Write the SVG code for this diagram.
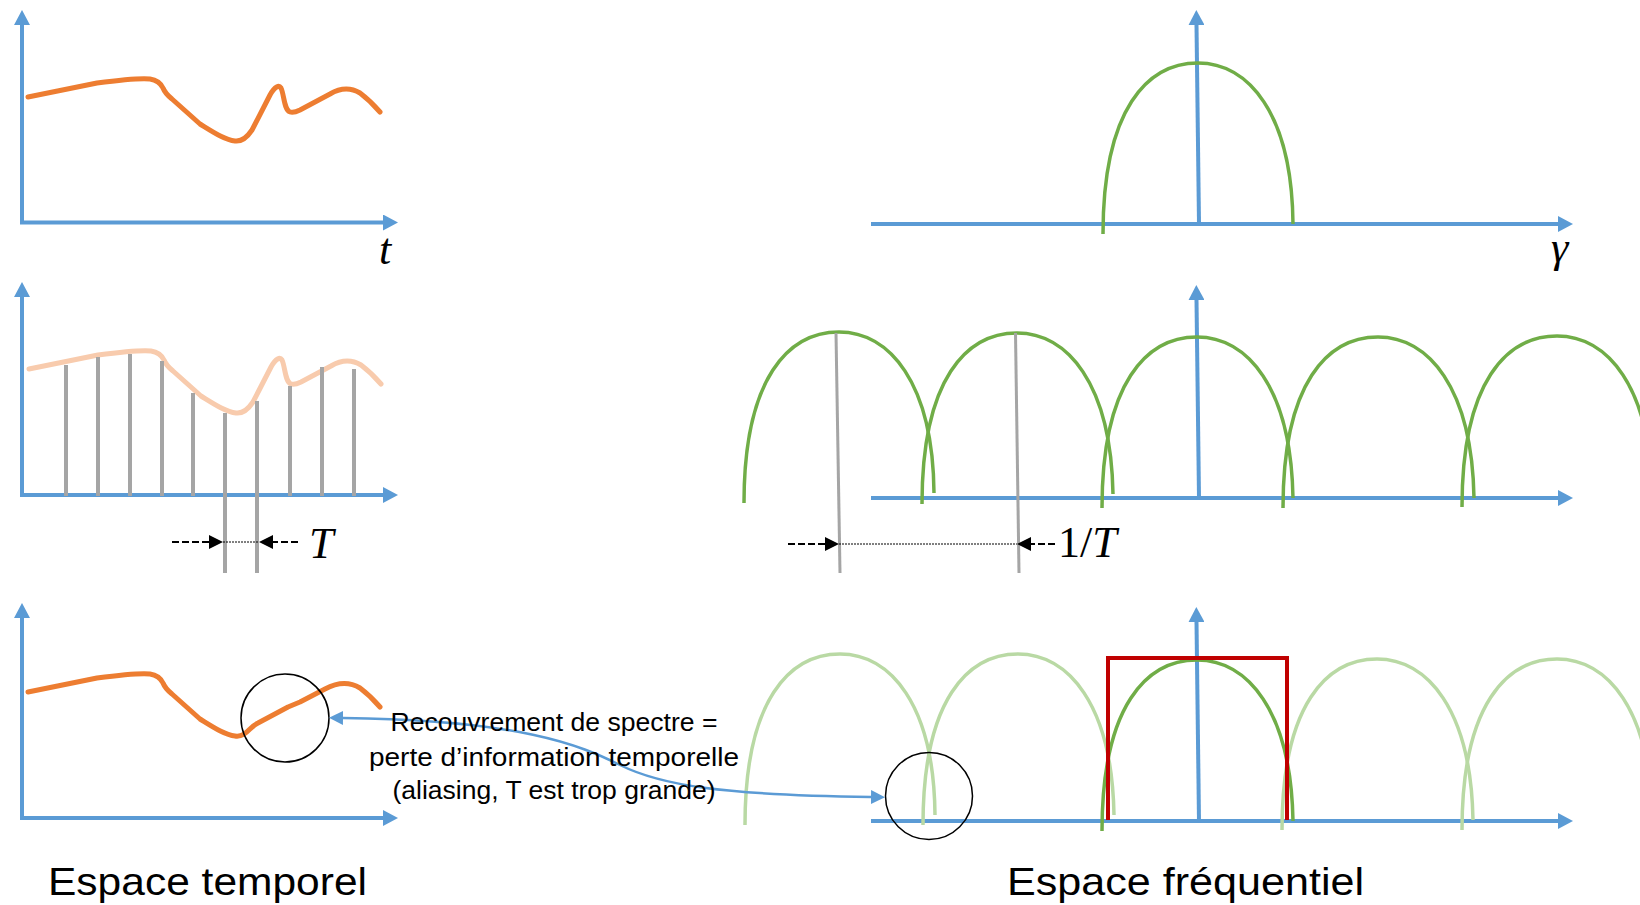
<svg xmlns="http://www.w3.org/2000/svg" width="1640" height="905" viewBox="0 0 1640 905">
<style>
.axis{stroke:#5B9BD5;stroke-width:4;fill:none}
.sig{stroke:#ED7D31;stroke-width:5;fill:none;stroke-linecap:round;stroke-linejoin:round}
.sigl{stroke:#F8CBAD;stroke-width:5;fill:none;stroke-linecap:round;stroke-linejoin:round}
.stem{stroke:#A5A5A5;stroke-width:4}
.gl{stroke:#A5A5A5;stroke-width:3}
.spec{stroke:#70AD47;stroke-width:3.5;fill:none}
.specl{stroke:#B9D9A4;stroke-width:3.5;fill:none}
.box{stroke:#C00000;stroke-width:4;fill:none}
.dash{stroke:#000;stroke-width:2.2;stroke-dasharray:7 3}
.dot{stroke:#000;stroke-width:1;stroke-dasharray:2 1}
.circ{fill:none;stroke:#000;stroke-width:1.5}
.conn{fill:none;stroke:#5B9BD5;stroke-width:2.5}
.lbl{font-family:'Liberation Sans',Arial,sans-serif;fill:#000}
.math{font-family:'Liberation Serif','DejaVu Serif',serif;font-style:italic;fill:#000}
</style>
<defs>
<marker id="ah" markerUnits="userSpaceOnUse" markerWidth="16" markerHeight="16" refX="0" refY="8" orient="auto" viewBox="0 0 16 16"><path d="M0,0 L15,8 L0,16 z" fill="#5B9BD5"/></marker>
<marker id="ch" markerUnits="userSpaceOnUse" markerWidth="14" markerHeight="14" refX="0" refY="7" orient="auto-start-reverse" viewBox="0 0 14 14"><path d="M0,0 L14,7 L0,14 z" fill="#5B9BD5"/></marker>
<marker id="bh" markerUnits="userSpaceOnUse" markerWidth="14" markerHeight="14" refX="0" refY="7" orient="auto" viewBox="0 0 14 14"><path d="M0,0 L14,7 L0,14 z" fill="#000"/></marker>
<path id="sigpath" d="M28,97 L97,83 C120,80 140,78 150,79 C157,80 161,84 163,88 C165,93 167,95 172,99 L200,124 C213,132 225,140 235,141 C243,142 248,136 252,130 L270,95 C275,86 279,85 281,88 C284,94 284,110 290,112 C293,113 296,112 300,110 L330,94 C340,88 350,87 360,93 C368,99 374,105 380,112"/>
</defs>
<rect width="1640" height="905" fill="#fff"/>

<g id="time-signal">
<line class="axis" x1="22" y1="224" x2="22" y2="25" marker-end="url(#ah)"/>
<line class="axis" x1="20" y1="222.5" x2="383" y2="222.5" marker-end="url(#ah)"/>
<use href="#sigpath" class="sig"/>
<text class="math" x="379" y="264" font-size="44">t</text>
</g>

<g id="time-sampled">
<line class="axis" x1="22" y1="497" x2="22" y2="297" marker-end="url(#ah)"/>
<line class="axis" x1="20" y1="495" x2="383" y2="495" marker-end="url(#ah)"/>
<use href="#sigpath" class="sigl" transform="translate(1,272)"/>
<line class="stem" x1="66" y1="365" x2="66" y2="496"/>
<line class="stem" x1="98" y1="357" x2="98" y2="496"/>
<line class="stem" x1="130" y1="354" x2="130" y2="496"/>
<line class="stem" x1="162" y1="361" x2="162" y2="496"/>
<line class="stem" x1="193" y1="393" x2="193" y2="496"/>
<line class="stem" x1="225" y1="413" x2="225" y2="573"/>
<line class="stem" x1="257" y1="401" x2="257" y2="573"/>
<line class="stem" x1="290" y1="386" x2="290" y2="496"/>
<line class="stem" x1="322" y1="367" x2="322" y2="496"/>
<line class="stem" x1="354" y1="369" x2="354" y2="496"/>
<line class="dash" x1="172" y1="542" x2="209" y2="542" marker-end="url(#bh)"/>
<line class="dot" x1="223" y1="542" x2="259" y2="542"/>
<line class="dash" x1="298" y1="542" x2="273" y2="542" marker-end="url(#bh)"/>
<text class="math" x="309" y="558" font-size="44">T</text>
</g>

<g id="time-aliased">
<line class="axis" x1="22" y1="820" x2="22" y2="618" marker-end="url(#ah)"/>
<line class="axis" x1="20" y1="818" x2="383" y2="818" marker-end="url(#ah)"/>
<path class="sig" d="M28,692 L97,678 C120,675 140,673 150,674 C157,675 161,679 163,683 C165,688 167,690 172,694 L200,719 C213,727 225,735 235,736 C242,737 246,733 250,729 C252,727 254,725 258,723 L288,707 L300,702 L325,689 C338,682 350,682 360,688 C368,694 374,700 380,707"/>
<circle class="circ" cx="285" cy="718" r="44"/>
</g>

<g id="freq-spectrum">
<line class="axis" x1="871" y1="224" x2="1558" y2="224" marker-end="url(#ah)"/>
<line class="axis" x1="1199" y1="224" x2="1196.5" y2="25" marker-end="url(#ah)"/>
<path class="spec" d="M1103,234 C1103,108 1148,63 1198,63 C1248,63 1292,113 1293,224"/>
<text class="math" x="1551" y="262" font-size="44">γ</text>
</g>

<g id="freq-periodized">
<line class="axis" x1="871" y1="498" x2="1558" y2="498" marker-end="url(#ah)"/>
<line class="axis" x1="1199" y1="498" x2="1196.5" y2="300" marker-end="url(#ah)"/>
<path class="spec" d="M744,503 C744,377 789,332 839,332 C889,332 933,382 934,493"/>
<path class="spec" d="M922,504 C922,378 967,333 1017,333 C1067,333 1111,383 1113,494"/>
<path class="spec" d="M1102,508 C1102,382 1147,337 1197,337 C1247,337 1291,387 1293,498"/>
<path class="spec" d="M1283,508 C1283,382 1328,337 1378,337 C1428,337 1472,387 1474,498"/>
<path class="spec" d="M1462,507 C1462,381 1507,336 1557,336 C1607,336 1651,386 1652,497"/>
<line class="gl" x1="836" y1="333" x2="840" y2="573"/>
<line class="gl" x1="1015.5" y1="333" x2="1019" y2="573"/>
<line class="dash" x1="788" y1="544" x2="825" y2="544" marker-end="url(#bh)"/>
<line class="dot" x1="839" y1="544" x2="1017" y2="544"/>
<line class="dash" x1="1055" y1="544" x2="1031" y2="544" marker-end="url(#bh)"/>
<text class="math" x="1058" y="557" font-size="44"><tspan font-style="normal">1/</tspan>T</text>
</g>

<g id="freq-filtered">
<line class="axis" x1="871" y1="821" x2="1558" y2="821" marker-end="url(#ah)"/>
<line class="axis" x1="1199" y1="821" x2="1196.5" y2="622" marker-end="url(#ah)"/>
<path class="specl" d="M745,825 C745,699 790,654 840,654 C890,654 934,704 935,815"/>
<path class="specl" d="M923,825 C923,699 968,654 1018,654 C1068,654 1112,704 1114,815"/>
<path class="specl" d="M1282,830 C1282,704 1327,659 1377,659 C1427,659 1471,709 1473,820"/>
<path class="specl" d="M1462,830 C1462,704 1507,659 1557,659 C1607,659 1651,709 1652,820"/>
<path class="spec" d="M1102,831 C1102,705 1147,660 1197,660 C1247,660 1291,710 1293,821"/>
<polyline class="box" points="1108,820 1108,658 1287,658 1287,820"/>
<circle class="circ" cx="929" cy="796" r="43.5"/>
</g>

<g id="connectors">
<path class="conn" d="M343,718 C520,720 580,745 620,765 S720,795 871,797" marker-start="url(#ch)" marker-end="url(#ch)"/>
</g>

<g id="note">
<text class="lbl" font-size="25" text-anchor="middle" x="554" y="731" textLength="327" lengthAdjust="spacingAndGlyphs">Recouvrement de spectre =</text>
<text class="lbl" font-size="25" text-anchor="middle" x="554" y="766" textLength="370" lengthAdjust="spacingAndGlyphs">perte d’information temporelle</text>
<text class="lbl" font-size="25" text-anchor="middle" x="554" y="799" textLength="323" lengthAdjust="spacingAndGlyphs">(aliasing, T est trop grande)</text>
</g>

<g id="titles">
<text class="lbl" font-size="39" x="48" y="895" textLength="319" lengthAdjust="spacingAndGlyphs">Espace temporel</text>
<text class="lbl" font-size="39" x="1007" y="895" textLength="357" lengthAdjust="spacingAndGlyphs">Espace fréquentiel</text>
</g>
</svg>
